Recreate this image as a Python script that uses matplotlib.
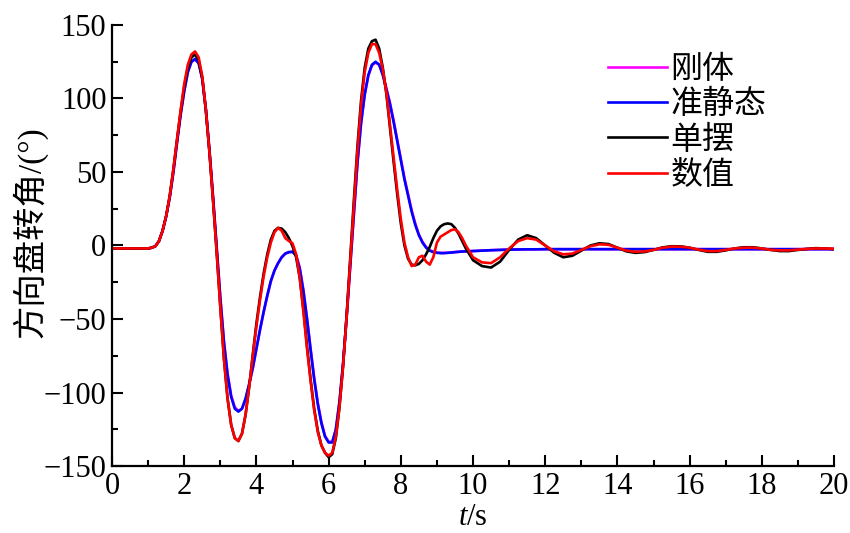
import matplotlib
matplotlib.use('Agg')
import matplotlib.pyplot as plt

# Dades llegides del grafic (temps en s, angle del volant en graus)
Time = [0.0, 0.5, 1.0, 1.1, 1.2, 1.3, 1.4, 1.5, 1.6, 1.7, 1.8, 1.9,
        2.0, 2.1, 2.2, 2.3, 2.4, 2.5, 2.6, 2.7, 2.8, 2.9,
        3.0, 3.1, 3.2, 3.3, 3.4, 3.5, 3.6, 3.7, 3.8, 3.9,
        4.0, 4.1, 4.2, 4.3, 4.4, 4.5, 4.6, 4.7, 4.8, 4.9,
        5.0, 5.1, 5.2, 5.3, 5.4, 5.5, 5.6, 5.7, 5.8, 5.9,
        6.0, 6.1, 6.2, 6.3, 6.4, 6.5, 6.6, 6.7, 6.8, 6.9,
        7.0, 7.1, 7.2, 7.3, 7.4, 7.5, 7.6, 7.7, 7.8, 7.9,
        8.0, 8.1, 8.2, 8.3, 8.4, 8.5, 8.6, 8.7, 8.8, 8.9,
        9.0, 9.1, 9.2, 9.3, 9.4, 9.5, 9.6, 9.7, 9.8, 9.9,
        10.0, 10.25, 10.5, 10.75, 11.0, 11.25, 11.5, 11.75,
        12.0, 12.25, 12.5, 12.75, 13.0, 13.25, 13.5, 13.75,
        14.0, 14.25, 14.5, 14.75, 15.0, 15.25, 15.5, 15.75,
        16.0, 16.25, 16.5, 16.75, 17.0, 17.25, 17.5, 17.75,
        18.0, 18.25, 18.5, 18.75, 19.0, 19.25, 19.5, 19.75, 20.0]

# 数值
Numeric = [-2, -2, -2, -1.5, -0.5, 3, 10, 20, 34, 52, 72, 92,
           110, 123, 130, 132, 128, 115, 92, 63, 30, -5,
           -42, -77, -104, -122, -131, -133, -128, -115, -96, -75,
           -55, -37, -21, -8, 2, 9, 12, 10, 5, 3,
           1.5, -6, -22, -45, -70, -92, -112, -127, -136, -141,
           -143, -141, -130, -110, -82, -48, -10, 28, 65, 96,
           118, 131, 137, 137, 131, 120, 104, 82, 60, 38,
           18, 2, -8, -14, -13, -8, -7, -11, -13, -8,
           2, 6, 7.5, 9, 10.5, 11, 9, 5, 0, -4,
           -8, -11.5, -12, -8, -2, 3, 5, 4,
           0, -4, -6, -5.5, -3, -0.5, 0.8, 0.5,
           -1.5, -3.5, -4.3, -4, -3, -1.5, -0.8, -0.8,
           -1.5, -2.8, -3.8, -3.8, -3, -2, -1.5, -1.5,
           -2, -3, -3.3, -3.3, -2.8, -2.3, -2, -2, -2.2]

# 单摆
Pendulum = [-2, -2, -2, -1.5, -0.5, 3, 10, 20, 34, 52, 72, 91,
            108, 121, 128, 130, 126, 114, 92, 63, 30, -5,
            -42, -77, -104, -122, -131, -133, -128, -115, -96, -74,
            -53, -35, -19, -6, 4, 10, 12, 11.5, 9, 5,
            -0.5, -8, -22, -43, -68, -91, -111, -126, -136, -141,
            -144, -142, -131, -110, -82, -47, -8, 31, 68, 99,
            121, 134, 139, 140, 134, 121, 103, 80, 57, 35,
            15, 0, -9, -13, -13.5, -12.5, -10, -6, -1, 5,
            10, 13, 14.5, 15, 14.5, 12, 8, 3, -2, -6,
            -10, -14, -15, -11, -3, 4, 7, 5,
            0, -5, -8, -7, -3.5, 0, 1.5, 1,
            -1.5, -4, -5, -4.5, -3, -1.3, -0.5, -0.6,
            -1.5, -3, -4.3, -4.3, -3.3, -2, -1.2, -1.2,
            -2, -3, -3.8, -3.8, -3, -2.3, -1.8, -2, -2.5]

# 准静态
QuasiStatic = [-2, -2, -2, -1.5, -0.5, 3, 10, 20, 33, 50, 70, 89,
               105, 118, 125, 127, 124, 113, 92, 64, 32, -2,
               -36, -66, -88, -103, -111, -113, -111, -104, -94, -83,
               -70, -57, -45, -34, -24, -17, -12, -8, -5.5, -4.5,
               -4.3, -7, -16, -31, -50, -71, -91, -108, -121, -130,
               -134, -134, -125, -106, -80, -48, -13, 23, 57, 84,
               103, 116, 123, 125, 123, 116, 106, 96, 84, 71,
               58, 45, 34, 23, 14, 7, 2, -1.5, -3.5, -4.5,
               -5, -5.2, -5.2, -5, -4.8, -4.5, -4.3, -4.1, -4, -3.9,
               -3.8, -3.5, -3.2, -3, -2.8, -2.7, -2.6, -2.6,
               -2.5, -2.5, -2.5, -2.5, -2.5, -2.5, -2.5, -2.5,
               -2.5, -2.5, -2.5, -2.5, -2.5, -2.5, -2.5, -2.5,
               -2.5, -2.5, -2.5, -2.5, -2.5, -2.5, -2.5, -2.5,
               -2.5, -2.5, -2.5, -2.5, -2.5, -2.5, -2.5, -2.5, -2.5]

# 刚体 (gairebe igual que el quasi-estatic, queda tapat)
Rigid = [-2, -2, -2, -1.5, -0.5, 3, 10, 20, 33, 50, 70, 89,
         105, 118, 125, 126.5, 124, 114, 93, 65, 33, -1,
         -35, -65, -87, -102, -110, -112.5, -111, -104.5, -94.5, -83.5,
         -70.5, -57.5, -45.5, -34.5, -24.5, -17, -12, -8, -5.5, -4.5,
         -4.3, -6.5, -15, -30, -49, -70, -90, -107, -120, -129.5,
         -133.5, -133.5, -125.5, -107, -81, -49, -14, 22, 56, 83,
         102.5, 115.5, 122.5, 124.5, 123, 116.5, 107, 97, 85, 72,
         59, 46, 35, 24, 15, 7.5, 2.5, -1, -3.2, -4.3,
         -4.8, -5, -5, -4.9, -4.7, -4.5, -4.3, -4.1, -4, -3.9,
         -3.8, -3.5, -3.2, -3, -2.8, -2.7, -2.6, -2.6,
         -2.5, -2.5, -2.5, -2.5, -2.5, -2.5, -2.5, -2.5,
         -2.5, -2.5, -2.5, -2.5, -2.5, -2.5, -2.5, -2.5,
         -2.5, -2.5, -2.5, -2.5, -2.5, -2.5, -2.5, -2.5,
         -2.5, -2.5, -2.5, -2.5, -2.5, -2.5, -2.5, -2.5, -2.5]

Labels = ['刚体', '准静态', '单摆', '数值']
xticks = [0, 2, 4, 6, 8, 10, 12, 14, 16, 18, 20]
yticks = [-150, -100, -50, 0, 50, 100, 150]

plt.rcParams['font.family'] = ['Liberation Serif', 'Noto Sans CJK SC']
plt.rcParams['mathtext.fontset'] = 'custom'
plt.rcParams['mathtext.rm'] = 'Liberation Serif'
plt.rcParams['mathtext.it'] = 'Liberation Serif:italic'

fig = plt.figure(figsize=(8.5, 5.33), dpi=100)
ax = fig.add_axes([0.1318, 0.1257, 0.8494, 0.8274])

ax.plot(Time, Rigid, color='#ff00ff', lw=1.9, label=Labels[0])
ax.plot(Time, QuasiStatic, color='#0000ff', lw=1.9, label=Labels[1])
ax.plot(Time, Pendulum, color='black', lw=1.9, label=Labels[2])
ax.plot(Time, Numeric, color='#ff0000', lw=1.9, label=Labels[3])

ax.set_xlim(0, 20)
ax.set_ylim(-150, 150)
ax.set_xticks(xticks)
ax.set_yticks(yticks)
ax.set_xticks([1, 3, 5, 7, 9, 11, 13, 15, 17, 19], minor=True)
ax.set_yticks([-125, -75, -25, 25, 75, 125], minor=True)
ax.tick_params(which='both', direction='in', width=1.5, labelsize=22, pad=4)
ax.tick_params(which='major', length=8)
ax.tick_params(which='minor', length=4.5)

for s in ['top', 'right']:
    ax.spines[s].set_visible(False)
for s in ['left', 'bottom']:
    ax.spines[s].set_linewidth(1.6)

ax.set_xlabel(r'$t$/s', fontsize=22, labelpad=2)
ax.set_ylabel('方向盘转角/(°)', fontsize=24)
ax.yaxis.set_label_coords(-0.09, 0.53)

ax.legend(loc='upper left', bbox_to_anchor=(0.687, 0.936), frameon=False,
          prop={'family': ['Noto Sans CJK SC'], 'size': 23},
          handlelength=1.85, handletextpad=0.1, labelspacing=0.1, borderpad=0,
          borderaxespad=0)

fig.savefig('out.png', dpi=100)
